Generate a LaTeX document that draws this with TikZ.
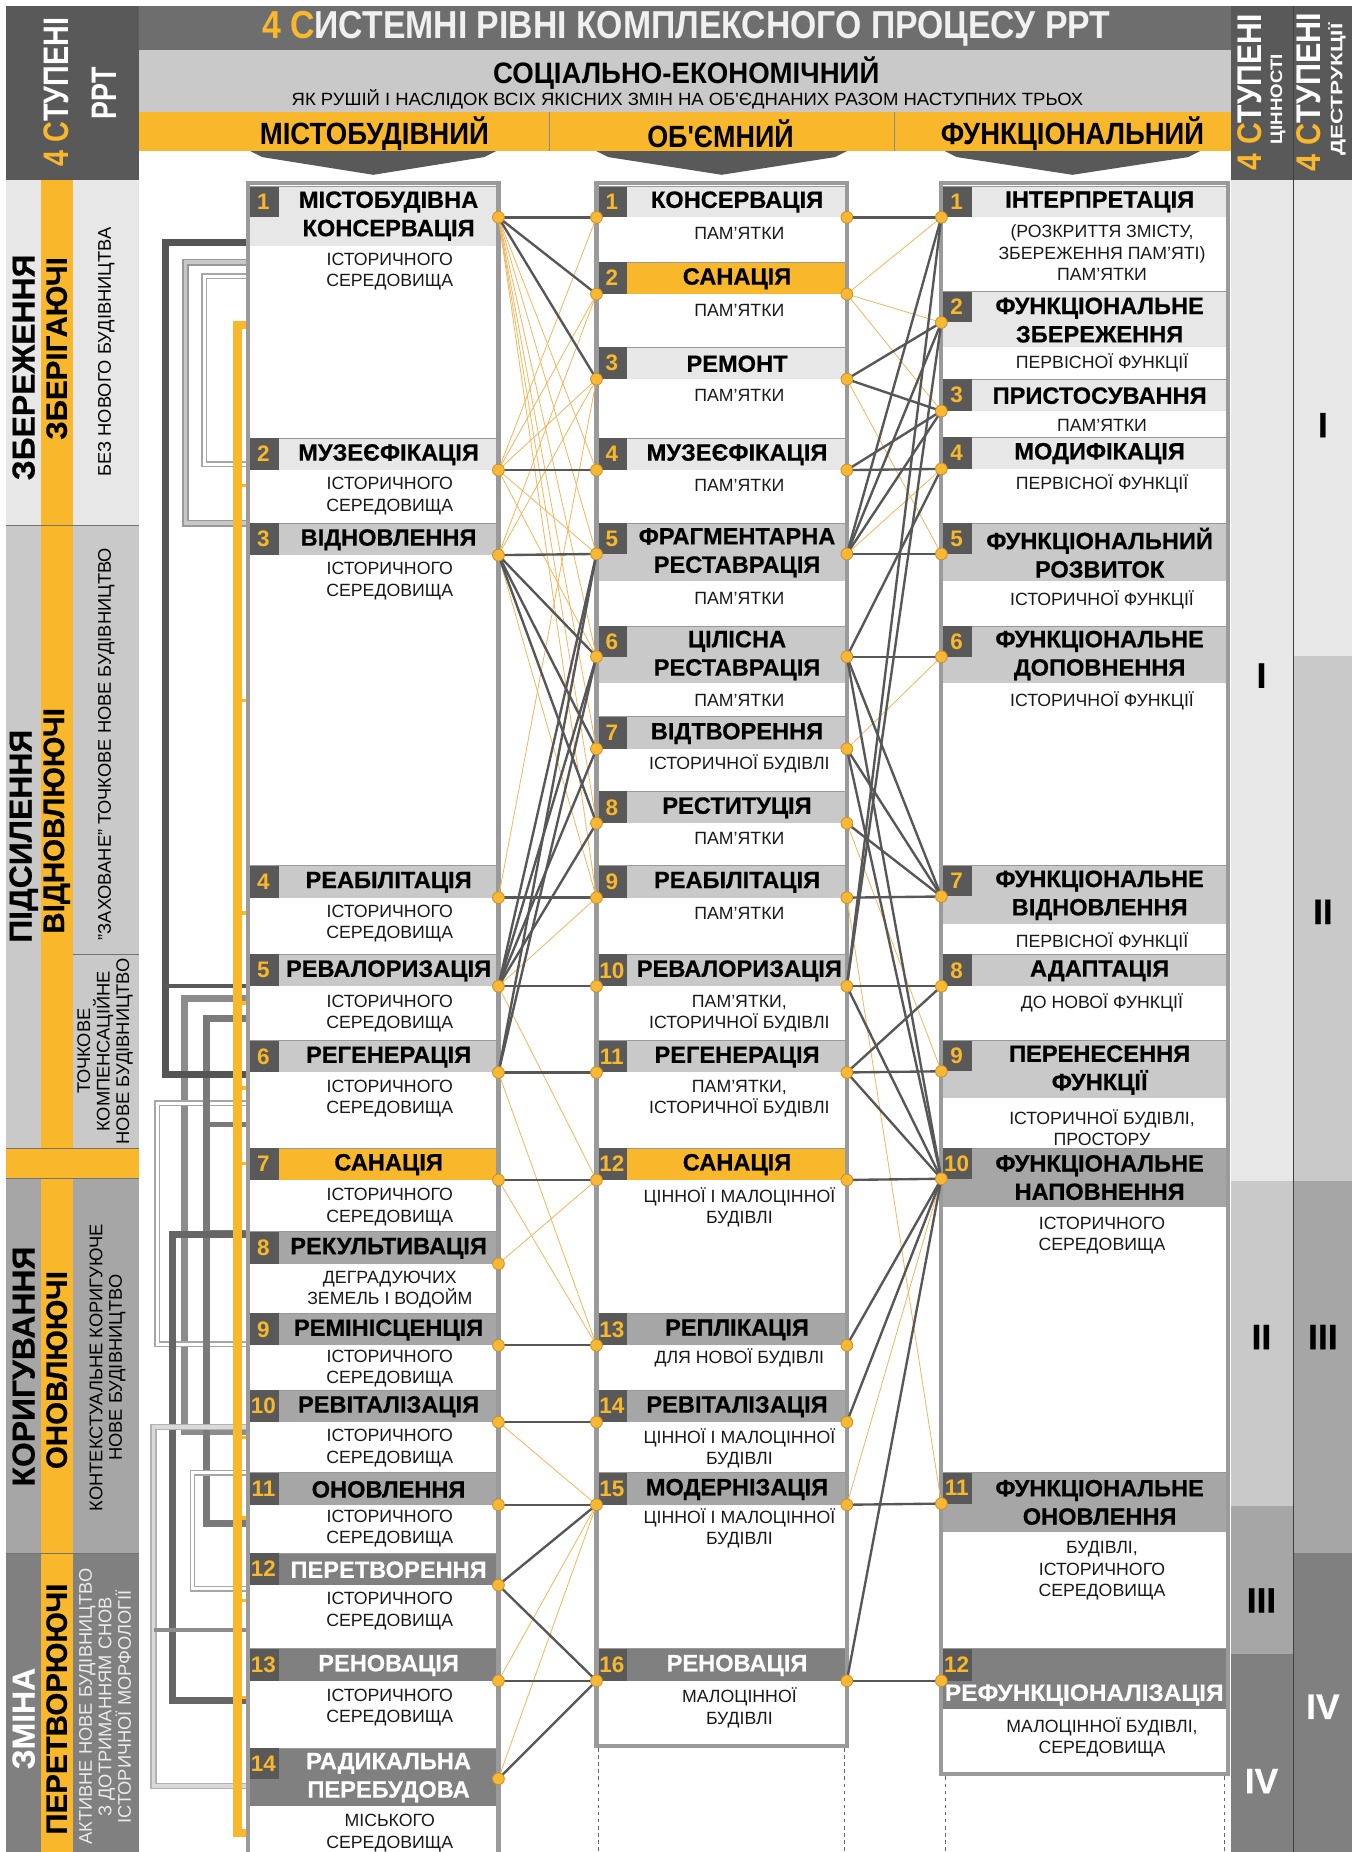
\documentclass[tikz,border=0pt]{standalone}
\usepackage{fontspec}
\setmainfont{Liberation Sans}
\newfontfamily\nar[FakeStretch=0.85]{Liberation Sans}
\newfontfamily\hvy[BoldFeatures={FakeBold=0.5}]{Liberation Sans}
\usetikzlibrary{calc}
\definecolor{yel}{HTML}{F9B82B}
\definecolor{gA}{HTML}{E7E7E7}
\definecolor{gB}{HTML}{C9C9C9}
\definecolor{gC}{HTML}{A6A6A6}
\definecolor{gD}{HTML}{808080}
\definecolor{hdk}{HTML}{595959}
\definecolor{tbar}{HTML}{6E6E6E}
\definecolor{bxo}{HTML}{9A9A9A}
\definecolor{lnd}{HTML}{575757}
\definecolor{lny}{HTML}{F0B860}
\definecolor{dotf}{HTML}{F8B834}
\definecolor{dotd}{HTML}{C8902A}
\newcommand\ap{\char"0027\relax}
\newcommand\sx[2]{\resizebox{#1}{\height}{#2}}
\newcommand\Hfont{\hvy\fontsize{20}{24}\selectfont\bfseries}
\newcommand\Sfont{\fontsize{15}{18}\selectfont}
\newcommand\Nfont{\fontsize{19}{20}\selectfont\bfseries}
\newcommand\itm[8]{%
 \fill[#6] (#2,#4) rectangle (#3,#5);
 \draw[sepl] (#2,#4) -- (#3,#4);
 \fill[hdk] (#2,#4) rectangle ++(26,#8);
 \node[num] (#1) at ($(#2,#4)+(13,#8/2)$) {#7};
}
\newcommand\brk[4]{\draw[#4] (210,#2) -| (#1,#3) -- (210,#3);}
\begin{document}
\begin{tikzpicture}[x=1pt,y=-1pt,
  hd/.style={font=\Hfont,align=center,inner sep=0pt,text=black},
  hdw/.style={hd,text=white},
  sb/.style={font=\Sfont,align=center,inner sep=0pt,text=black!90},
  num/.style={font=\Nfont,text=yel,inner sep=0pt},
  dot/.style={circle,fill=dotf,draw=dotd,line width=0.7pt,minimum size=10pt,inner sep=0pt},
  dk/.style={draw=lnd,line width=2pt},
  th/.style={draw=lny,line width=0.7pt},
  sepl/.style={draw=black!40,line width=0.8pt},
  vt/.style={rotate=90,inner sep=0pt,align=center},
  bA/.style={vt,font=\hvy\fontsize{27}{27}\selectfont\bfseries},
  bB/.style={vt,font=\hvy\fontsize{25}{25}\selectfont\bfseries},
  bC/.style={vt,font=\fontsize{15.5}{16.5}\selectfont},
  rn/.style={inner sep=0pt,font=\hvy\fontsize{30}{30}\selectfont\bfseries},
  bkD/.style={draw=hdk!95!black,line width=6pt},
  bkD2/.style={draw=black!60,line width=6pt},
  bkG/.style={draw=black!40,double=black!22,double distance=3pt,line width=1.3pt},
  bkG2/.style={draw=black!45,line width=6pt},
  bkG3/.style={draw=black!30,double=black!15,double distance=3pt,line width=1.3pt},
  bkM/.style={draw=black!52,line width=6pt},
  bkW/.style={draw=black!35,double=white,double distance=2.5pt,line width=1.2pt},
]
\useasboundingbox (0,0) rectangle (1150,1568);
\fill[white] (0,0) rectangle (1150,1568);

% ---------- left header block
\fill[hdk] (5,5) rectangle (118,152);
\node[vt,text=white,font=\nar\bfseries\fontsize{30}{30}\selectfont] (lhA) at (48,78) {\sx{126pt}{\textcolor{yel}{4 С}ТУПЕНІ}};
\node[vt,text=white,font=\nar\bfseries\fontsize{30}{30}\selectfont] (lhB) at (88,79) {\sx{44pt}{РРТ}};

% ---------- title bars
\fill[tbar] (118,5) rectangle (1042,42);
\node[inner sep=0pt,text=white!94!black,font=\nar\bfseries\fontsize{33}{33}\selectfont] (title) at (581,24) {\sx{718pt}{\textcolor{yel}{4 С}ИСТЕМНІ РІВНІ КОМПЛЕКСНОГО ПРОЦЕСУ РРТ}};
\fill[gB] (118,42) rectangle (1042,95);
\node[inner sep=0pt,font=\nar\bfseries\fontsize{25}{25}\selectfont] (soc) at (581,62) {\sx{327pt}{СОЦІАЛЬНО-ЕКОНОМІЧНИЙ}};
\node[inner sep=0pt,font=\nar\fontsize{15}{15}\selectfont] (soc2) at (582,84) {\sx{670pt}{ЯК РУШІЙ І НАСЛІДОК ВСІХ ЯКІСНИХ ЗМІН НА ОБ\ap ЄДНАНИХ РАЗОМ НАСТУПНИХ ТРЬОХ}};
\fill[yel] (118,95) rectangle (1042,128);
\draw[black!45,line width=0.8pt] (465,95)--(465,128) (757,95)--(757,128);
\node[inner sep=0pt,font=\nar\bfseries\fontsize{26}{26}\selectfont] (t1) at (317,113) {\sx{194pt}{МІСТОБУДІВНИЙ}};
\node[inner sep=0pt,font=\nar\bfseries\fontsize{26}{26}\selectfont] (t2) at (610,113) {\sx{124pt}{ОБ\ap ЄМНИЙ}};
\node[inner sep=0pt,font=\nar\bfseries\fontsize{26}{26}\selectfont] (t3) at (908,113) {\sx{223pt}{ФУНКЦІОНАЛЬНИЙ}};
\fill[hdk] (212,128)--(420,128)--(410,133)--(316,148)--(222,133)--cycle;
\fill[hdk] (505,128)--(717,128)--(707,133)--(611,148)--(515,133)--cycle;
\fill[hdk] (800,128)--(1016,128)--(1006,133)--(908,148)--(810,133)--cycle;

% ---------- right columns
\fill[hdk] (1042,5) rectangle (1145,152);
\fill[gA] (1042,152) rectangle (1095,1000);
\fill[gB] (1042,1000) rectangle (1095,1275);
\fill[gC] (1042,1275) rectangle (1095,1400);
\fill[gD] (1042,1400) rectangle (1095,1568);
\fill[gA] (1095,152) rectangle (1145,555);
\fill[gB] (1095,555) rectangle (1145,1000);
\fill[gC] (1095,1000) rectangle (1145,1315);
\fill[gD] (1095,1315) rectangle (1145,1568);
\draw[black!75,line width=0.8pt] (1095,5)--(1095,1568);
\node[vt,text=white,font=\nar\bfseries\fontsize{29}{29}\selectfont] (r1a) at (1058,78) {\sx{132pt}{\textcolor{yel}{4 С}ТУПЕНІ}};
\node[vt,text=white,font=\bfseries\fontsize{14}{14}\selectfont] (r1b) at (1082,84) {\sx{76pt}{ЦІННОСТІ}};
\node[vt,text=white,font=\nar\bfseries\fontsize{29}{29}\selectfont] (r2a) at (1108,78) {\sx{134pt}{\textcolor{yel}{4 С}ТУПЕНІ}};
\node[vt,text=white,font=\bfseries\fontsize{14}{14}\selectfont] (r2b) at (1132,76) {\sx{112pt}{ДЕСТРУКЦІЇ}};
\node[rn] (ra1) at (1068,572) {I};
\node[rn] (ra2) at (1068,1132) {II};
\node[rn] (ra3) at (1068,1355) {III};
\node[rn,text=white] (ra4) at (1068,1508) {IV};
\node[rn] (rb1) at (1120,360) {I};
\node[rn] (rb2) at (1120,772) {II};
\node[rn] (rb3) at (1120,1132) {III};
\node[rn,text=white] (rb4) at (1120,1445) {IV};

% ---------- left bands
\fill[gA] (5,152) rectangle (35,445);
\fill[gB] (5,445) rectangle (35,972);
\fill[gC] (5,998) rectangle (35,1315);
\fill[gD] (5,1315) rectangle (35,1568);
\fill[yel] (35,152) rectangle (62,1568);
\fill[gA] (62,152) rectangle (118,445);
\fill[gB] (62,445) rectangle (118,972);
\fill[gC] (62,998) rectangle (118,1315);
\fill[gD] (62,1315) rectangle (118,1568);
\fill[yel] (5,972) rectangle (118,998);
\draw[black!55,line width=0.6pt] (5,445)--(118,445) (62,808)--(118,808) (5,972)--(118,972) (5,998)--(118,998) (5,1315)--(118,1315);
\node[bA] (la1) at (20,311) {ЗБЕРЕЖЕННЯ};
\node[bA] (la2) at (20,708) {ПІДСИЛЕННЯ};
\node[bA] (la3) at (20,1157) {КОРИГУВАННЯ};
\node[bA,text=white] (la4) at (20,1455) {ЗМІНА};
\node[bB] (lb1) at (48,295) {ЗБЕРІГАЮЧІ};
\node[bB] (lb2) at (48,695) {ВІДНОВЛЮЮЧІ};
\node[bB] (lb3) at (48,1160) {ОНОВЛЮЮЧІ};
\node[bB] (lb4) at (48,1447) {ПЕРЕТВОРЮЮЧІ};
\node[bC] (lc1) at (90,298) {БЕЗ НОВОГО БУДІВНИЦТВА};
\node[bC] (lc2) at (90,630) {"ЗАХОВАНЕ" ТОЧКОВЕ НОВЕ БУДІВНИЦТВО};
\node[bC] (lc3) at (89,890) {ТОЧКОВЕ\\КОМПЕНСАЦІЙНЕ\\НОВЕ БУДІВНИЦТВО};
\node[bC] (lc4) at (91,1158) {КОНТЕКСТУАЛЬНЕ КОРИГУЮЧЕ\\НОВЕ БУДІВНИЦТВО};
\node[bC,text=white!92!black] (lc5) at (89,1445) {АКТИВНЕ НОВЕ БУДІВНИЦТВО\\З ДОТРИМАННЯМ СНОВ\\ІСТОРИЧНОЇ МОРФОЛОГІЇ};

% ---------- left brackets
\brk{157}{222}{443}{bkG}
\brk{173}{234}{393}{bkW}
\brk{156}{845}{1212}{bkG2}
\brk{133}{934}{1138}{bkW}
\brk{175}{862}{1290}{bkM}
\draw[bkM,line width=4pt] (175,952)--(210,952) (175,1043)--(210,1043);
\brk{146}{1045}{1440}{bkD2}
\brk{130}{1208}{1512}{bkG3}
\draw[bkG2,line width=4pt] (130,1380)--(210,1380);
\brk{163}{1247}{1345}{bkW}
\brk{140}{205}{910}{bkD}
\draw[draw=hdk,line width=3pt] (140,835)--(210,835);
\draw[yel,line width=7pt] (210,275) -| (201,1552) -- (210,1552);
\foreach \yy in {411,593,773,849,921,985,1217,1285,1355,1437} \draw[yel,line width=3pt] (201,\yy)--(210,\yy);

% ---------- boxes
\fill[white] (210,155) rectangle (422,1580);
\fill[white] (505,155) rectangle (717,1478);
\fill[white] (797,155) rectangle (1040,1502);

% column 1
\itm{n101}{210}{422}{158}{208}{gA}{1}{26}
\itm{n102}{210}{422}{371}{398}{gA}{2}{27}
\itm{n103}{210}{422}{443}{470}{gB}{3}{27}
\itm{n104}{210}{422}{733}{760}{gB}{4}{27}
\itm{n105}{210}{422}{808}{835}{gB}{5}{27}
\itm{n106}{210}{422}{881}{908}{gB}{6}{27}
\itm{n107}{210}{422}{972}{999}{yel}{7}{27}
\itm{n108}{210}{422}{1043}{1070}{gC}{8}{27}
\itm{n109}{210}{422}{1112}{1139}{gC}{9}{27}
\itm{n110}{210}{422}{1177}{1204}{gC}{10}{27}
\itm{n111}{210}{422}{1247}{1274}{gC}{11}{27}
\itm{n112}{210}{422}{1315}{1342}{gD}{12}{27}
\itm{n113}{210}{422}{1396}{1423}{gD}{13}{27}
\itm{n114}{210}{422}{1480}{1529}{gD}{14}{26}
\node[hd] (h101) at (329,183) {МІСТОБУДІВНА\\КОНСЕРВАЦІЯ};
\node[hd] (h102) at (329,385) {МУЗЕЄФІКАЦІЯ};
\node[hd] (h103) at (329,457) {ВІДНОВЛЕННЯ};
\node[hd] (h104) at (329,747) {РЕАБІЛІТАЦІЯ};
\node[hd] (h105) at (329,822) {РЕВАЛОРИЗАЦІЯ};
\node[hd] (h106) at (329,895) {РЕГЕНЕРАЦІЯ};
\node[hd] (h107) at (329,986) {САНАЦІЯ};
\node[hd] (h108) at (329,1057) {РЕКУЛЬТИВАЦІЯ};
\node[hd] (h109) at (329,1126) {РЕМІНІСЦЕНЦІЯ};
\node[hd] (h110) at (329,1191) {РЕВІТАЛІЗАЦІЯ};
\node[hd] (h111) at (329,1261) {ОНОВЛЕННЯ};
\node[hdw] (h112) at (329,1329) {ПЕРЕТВОРЕННЯ};
\node[hdw] (h113) at (329,1410) {РЕНОВАЦІЯ};
\node[hdw] (h114) at (329,1505) {РАДИКАЛЬНА\\ПЕРЕБУДОВА};
\node[sb] (s101) at (330,230) {ІСТОРИЧНОГО\\СЕРЕДОВИЩА};
\node[sb] (s102) at (330,420) {ІСТОРИЧНОГО\\СЕРЕДОВИЩА};
\node[sb] (s103) at (330,492) {ІСТОРИЧНОГО\\СЕРЕДОВИЩА};
\node[sb] (s104) at (330,782) {ІСТОРИЧНОГО\\СЕРЕДОВИЩА};
\node[sb] (s105) at (330,858) {ІСТОРИЧНОГО\\СЕРЕДОВИЩА};
\node[sb] (s106) at (330,930) {ІСТОРИЧНОГО\\СЕРЕДОВИЩА};
\node[sb] (s107) at (330,1022) {ІСТОРИЧНОГО\\СЕРЕДОВИЩА};
\node[sb] (s108) at (330,1092) {ДЕГРАДУЮЧИХ\\ЗЕМЕЛЬ І ВОДОЙМ};
\node[sb] (s109) at (330,1159) {ІСТОРИЧНОГО\\СЕРЕДОВИЩА};
\node[sb] (s110) at (330,1226) {ІСТОРИЧНОГО\\СЕРЕДОВИЩА};
\node[sb] (s111) at (330,1294) {ІСТОРИЧНОГО\\СЕРЕДОВИЩА};
\node[sb] (s112) at (330,1364) {ІСТОРИЧНОГО\\СЕРЕДОВИЩА};
\node[sb] (s113) at (330,1446) {ІСТОРИЧНОГО\\СЕРЕДОВИЩА};
\node[sb] (s114) at (330,1552) {МІСЬКОГО\\СЕРЕДОВИЩА};

% column 2
\itm{n201}{505}{717}{158}{184}{gA}{1}{26}
\itm{n202}{505}{717}{222}{249}{yel}{2}{27}
\itm{n203}{505}{717}{294}{321}{gA}{3}{27}
\itm{n204}{505}{717}{371}{398}{gA}{4}{27}
\itm{n205}{505}{717}{443}{492}{gB}{5}{26}
\itm{n206}{505}{717}{530}{578}{gB}{6}{26}
\itm{n207}{505}{717}{607}{634}{gB}{7}{27}
\itm{n208}{505}{717}{670}{697}{gB}{8}{27}
\itm{n209}{505}{717}{733}{760}{gB}{9}{27}
\itm{n210}{505}{717}{808}{835}{gB}{10}{27}
\itm{n211}{505}{717}{881}{908}{gB}{11}{27}
\itm{n212}{505}{717}{972}{999}{yel}{12}{27}
\itm{n213}{505}{717}{1112}{1139}{gC}{13}{27}
\itm{n214}{505}{717}{1177}{1204}{gC}{14}{27}
\itm{n215}{505}{717}{1247}{1274}{gC}{15}{27}
\itm{n216}{505}{717}{1396}{1423}{gD}{16}{27}
\node[hd] (h201) at (624,171) {КОНСЕРВАЦІЯ};
\node[hd] (h202) at (624,236) {САНАЦІЯ};
\node[hd] (h203) at (624,308) {РЕМОНТ};
\node[hd] (h204) at (624,385) {МУЗЕЄФІКАЦІЯ};
\node[hd] (h205) at (624,468) {ФРАГМЕНТАРНА\\РЕСТАВРАЦІЯ};
\node[hd] (h206) at (624,555) {ЦІЛІСНА\\РЕСТАВРАЦІЯ};
\node[hd] (h207) at (624,621) {ВІДТВОРЕННЯ};
\node[hd] (h208) at (624,684) {РЕСТИТУЦІЯ};
\node[hd] (h209) at (624,747) {РЕАБІЛІТАЦІЯ};
\node[hd] (h210) at (626,822) {РЕВАЛОРИЗАЦІЯ};
\node[hd] (h211) at (624,895) {РЕГЕНЕРАЦІЯ};
\node[hd] (h212) at (624,986) {САНАЦІЯ};
\node[hd] (h213) at (624,1126) {РЕПЛІКАЦІЯ};
\node[hd] (h214) at (624,1191) {РЕВІТАЛІЗАЦІЯ};
\node[hd] (h215) at (624,1261) {МОДЕРНІЗАЦІЯ};
\node[hdw] (h216) at (624,1410) {РЕНОВАЦІЯ};
\node[sb] (s201) at (626,198) {ПАМ\ap ЯТКИ};
\node[sb] (s202) at (626,263) {ПАМ\ap ЯТКИ};
\node[sb] (s203) at (626,335) {ПАМ\ap ЯТКИ};
\node[sb] (s204) at (626,411) {ПАМ\ap ЯТКИ};
\node[sb] (s205) at (626,507) {ПАМ\ap ЯТКИ};
\node[sb] (s206) at (626,593) {ПАМ\ap ЯТКИ};
\node[sb] (s207) at (626,647) {ІСТОРИЧНОЇ БУДІВЛІ};
\node[sb] (s208) at (626,710) {ПАМ\ap ЯТКИ};
\node[sb] (s209) at (626,773) {ПАМ\ap ЯТКИ};
\node[sb] (s210) at (626,858) {ПАМ\ap ЯТКИ,\\ІСТОРИЧНОЇ БУДІВЛІ};
\node[sb] (s211) at (626,930) {ПАМ\ap ЯТКИ,\\ІСТОРИЧНОЇ БУДІВЛІ};
\node[sb] (s212) at (626,1022) {ЦІННОЇ І МАЛОЦІННОЇ\\БУДІВЛІ};
\node[sb] (s213) at (626,1150) {ДЛЯ НОВОЇ БУДІВЛІ};
\node[sb] (s214) at (626,1226) {ЦІННОЇ І МАЛОЦІННОЇ\\БУДІВЛІ};
\node[sb] (s215) at (626,1294) {ЦІННОЇ І МАЛОЦІННОЇ\\БУДІВЛІ};
\node[sb] (s216) at (626,1446) {МАЛОЦІННОЇ\\БУДІВЛІ};

% column 3
\itm{n301}{797}{1040}{158}{184}{gA}{1}{26}
\itm{n302}{797}{1040}{247}{294}{gA}{2}{26}
\itm{n303}{797}{1040}{321}{348}{gA}{3}{27}
\itm{n304}{797}{1040}{370}{397}{gA}{4}{27}
\itm{n305}{797}{1040}{443}{492}{gB}{5}{26}
\itm{n306}{797}{1040}{530}{578}{gB}{6}{26}
\itm{n307}{797}{1040}{733}{782}{gB}{7}{26}
\itm{n308}{797}{1040}{808}{835}{gB}{8}{27}
\itm{n309}{797}{1040}{881}{930}{gB}{9}{26}
\itm{n310}{797}{1040}{972}{1022}{gC}{10}{26}
\itm{n311}{797}{1040}{1247}{1297}{gC}{11}{26}
\itm{n312}{797}{1040}{1396}{1447}{gD}{12}{27}
\node[hd] (h301) at (931,171) {ІНТЕРПРЕТАЦІЯ};
\node[hd] (h302) at (931,271) {ФУНКЦІОНАЛЬНЕ\\ЗБЕРЕЖЕННЯ};
\node[hd] (h303) at (931,335) {ПРИСТОСУВАННЯ};
\node[hd] (h304) at (931,384) {МОДИФІКАЦІЯ};
\node[hd] (h305) at (931,468) {ФУНКЦІОНАЛЬНИЙ\\РОЗВИТОК};
\node[hd] (h306) at (931,555) {ФУНКЦІОНАЛЬНЕ\\ДОПОВНЕННЯ};
\node[hd] (h307) at (931,758) {ФУНКЦІОНАЛЬНЕ\\ВІДНОВЛЕННЯ};
\node[hd] (h308) at (931,822) {АДАПТАЦІЯ};
\node[hd] (h309) at (931,906) {ПЕРЕНЕСЕННЯ\\ФУНКЦІЇ};
\node[hd] (h310) at (931,997) {ФУНКЦІОНАЛЬНЕ\\НАПОВНЕННЯ};
\node[hd] (h311) at (931,1272) {ФУНКЦІОНАЛЬНЕ\\ОНОВЛЕННЯ};
\node[hdw] (h312) at (918,1435) {\sx{236pt}{РЕФУНКЦІОНАЛІЗАЦІЯ}};
\node[sb] (s301) at (933,214) {(РОЗКРИТТЯ ЗМІСТУ,\\ЗБЕРЕЖЕННЯ ПАМ\ap ЯТІ)\\ПАМ\ap ЯТКИ};
\node[sb] (s302) at (933,307) {ПЕРВІСНОЇ ФУНКЦІЇ};
\node[sb] (s303) at (933,360) {ПАМ\ap ЯТКИ};
\node[sb] (s304) at (933,410) {ПЕРВІСНОЇ ФУНКЦІЇ};
\node[sb] (s305) at (933,508) {ІСТОРИЧНОЇ ФУНКЦІЇ};
\node[sb] (s306) at (933,593) {ІСТОРИЧНОЇ ФУНКЦІЇ};
\node[sb] (s307) at (933,797) {ПЕРВІСНОЇ ФУНКЦІЇ};
\node[sb] (s308) at (933,849) {ДО НОВОЇ ФУНКЦІЇ};
\node[sb] (s309) at (933,955) {ІСТОРИЧНОЇ БУДІВЛІ,\\ПРОСТОРУ};
\node[sb] (s310) at (933,1046) {ІСТОРИЧНОГО\\СЕРЕДОВИЩА};
\node[sb] (s311) at (933,1330) {БУДІВЛІ,\\ІСТОРИЧНОГО\\СЕРЕДОВИЩА};
\node[sb] (s312) at (933,1471) {МАЛОЦІННОЇ БУДІВЛІ,\\СЕРЕДОВИЩА};

% box outlines
\draw[bxo,line width=3.5pt] (210,155) rectangle (422,1580);
\draw[bxo,line width=3.5pt] (505,155) rectangle (717,1478);
\draw[bxo,line width=3.5pt] (797,155) rectangle (1040,1502);
\draw[black!60,dashed,line width=0.6pt] (507,1480)--(507,1568) (715,1480)--(715,1568) (800,1504)--(800,1568) (1037,1504)--(1037,1568);

% ---------- connection points
\foreach \n/\yy in {1/184,2/398,3/470,4/760,5/835,6/908,7/999,8/1070,9/1139,10/1204,11/1274,12/1342,13/1423,14/1506}
  \coordinate (L\n) at (422,\yy);
\foreach \n/\yy in {1/184,2/249,3/321,4/398,5/469,6/556,7/634,8/697,9/760,10/835,11/908,12/999,13/1139,14/1204,15/1274,16/1423}
  {\coordinate (Ma\n) at (505,\yy); \coordinate (Mb\n) at (717,\yy);}
\foreach \n/\yy in {1/184,2/273,3/348,4/397,5/469,6/556,7/759,8/835,9/907,10/998,11/1273,12/1423}
  \coordinate (R\n) at (797,\yy);

% thin links
\foreach \a/\b in {L1/Ma4,L1/Ma5,L1/Ma6,L1/Ma7,L1/Ma8,L1/Ma9,L2/Ma1,L2/Ma2,L2/Ma3,L2/Ma5,L2/Ma6,L3/Ma2,L3/Ma3,L3/Ma9,L4/Ma3,L5/Ma9,L5/Ma12,L6/Ma13,L7/Ma13,L8/Ma12,L10/Ma15,L13/Ma15,L14/Ma15,
  Mb2/R1,Mb2/R2,Mb2/R3,Mb3/R5,Mb5/R4,Mb7/R6,Mb9/R11,Mb12/R10,Mb13/R10,Mb15/R10,Mb8/R9}
  \draw[th] (\a)--(\b);
% dark links
\foreach \a/\b in {L1/Ma1,L1/Ma2,L1/Ma3,L2/Ma4,L3/Ma5,L3/Ma6,L3/Ma7,L3/Ma8,L4/Ma9,L5/Ma10,L5/Ma5,L5/Ma6,L5/Ma7,L5/Ma8,L6/Ma11,L6/Ma5,L6/Ma6,L7/Ma12,L9/Ma13,L10/Ma14,L11/Ma15,L12/Ma15,L12/Ma16,L13/Ma16,L14/Ma16,
  Mb1/R1,Mb3/R2,Mb3/R3,Mb4/R4,Mb4/R3,Mb5/R5,Mb5/R1,Mb5/R2,Mb5/R3,Mb6/R6,Mb6/R4,Mb6/R7,Mb6/R10,Mb7/R7,Mb7/R10,Mb8/R7,Mb9/R7,Mb10/R8,Mb10/R1,Mb10/R2,Mb10/R10,Mb11/R9,Mb11/R8,Mb11/R10,Mb12/R10,Mb13/R10,Mb14/R10,Mb15/R11,Mb16/R10,Mb16/R12}
  \draw[dk] (\a)--(\b);
% dots
\foreach \n in {1,...,14} \node[dot] (dL\n) at (L\n) {};
\foreach \n in {1,...,16} {\node[dot] (dMa\n) at (Ma\n) {}; \node[dot] (dMb\n) at (Mb\n) {};}
\foreach \n in {1,...,12} \node[dot] (dR\n) at (R\n) {};
\end{tikzpicture}
\end{document}
